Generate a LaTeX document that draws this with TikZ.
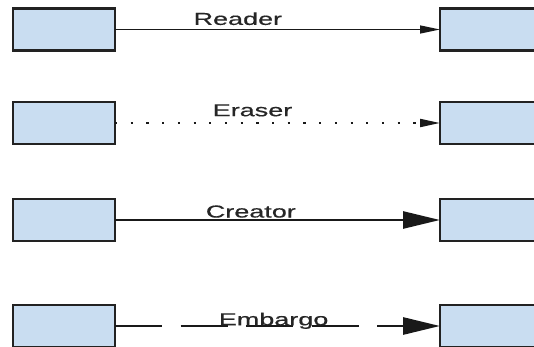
\documentclass[tikz,border=0pt]{standalone}
\usepackage{fontspec}
\usepackage{graphicx}
\setmainfont{Liberation Sans}
\newfontfamily\labelfont[FakeBold=0.4]{Liberation Sans}
\usetikzlibrary{arrows.meta}
\definecolor{boxfill}{HTML}{C9DDF1}
\definecolor{boxline}{HTML}{222222}
\newcommand{\widetext}[1]{\scalebox{1.56}[1]{#1}}
\tikzset{
  entity/.style={draw=boxline, fill=boxfill, line width=2.3pt, minimum width=102pt,
    minimum height=42pt, inner sep=0pt, outer sep=0pt},
  rel/.style={draw=black!90, line width=1.4pt},
  rlabel/.style={anchor=base, inner sep=0pt, font=\labelfont\fontsize{17.3}{20}\selectfont, text=black!85},
  thinhead/.style={-{Triangle[length=20pt,width=8pt]}},
  bighead/.style={-{Triangle[length=37pt,width=17pt]}}
}
\begin{document}
\begin{tikzpicture}[x=1pt,y=-1pt]
  \useasboundingbox (0,0) rectangle (534,347);
  % left and right boxes of each relation
  \node[entity] (l1) at (64,29.5) {};
  \node[entity] (r1) at (491,29.5) {};
  \node[entity] (l2) at (64,123) {};
  \node[entity] (r2) at (491,123) {};
  \node[entity] (l3) at (64,220) {};
  \node[entity] (r3) at (491,220) {};
  \node[entity] (l4) at (64,326) {};
  \node[entity] (r4) at (491,326) {};
  % relations
  \draw[rel, thinhead] (l1) -- node[rlabel, pos=0.378, yshift=4.6pt] {\widetext{Reader}} (r1);
  \draw[rel, thinhead, dash pattern=on 2.2pt off 13.5pt, line width=2pt]
    (l2) -- node[rlabel, pos=0.423, yshift=6.8pt] {\widetext{Eraser}} (r2);
  \draw[rel, bighead, line width=2.6pt] (l3) -- node[rlabel, pos=0.418, yshift=2.5pt] {\widetext{Creator}} (r3);
  \draw[rel, bighead, line width=2.8pt, dash pattern=on 47pt off 18.6pt]
    (l4) -- node[rlabel, pos=0.488, yshift=0.7pt] {\widetext{Embargo}} (r4);
\end{tikzpicture}
\end{document}
